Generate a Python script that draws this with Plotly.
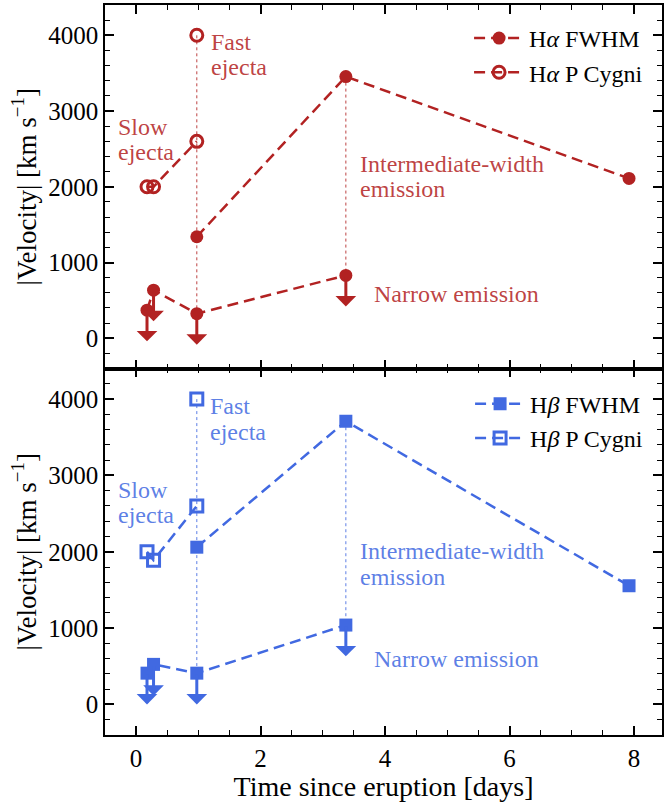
import plotly.graph_objects as go

# ---------------- data ----------------
# H-alpha
ha_fwhm_t = [0.975, 3.37, 7.92]
ha_fwhm_v = [1340, 3455, 2110]
ha_narrow_t = [0.175, 0.28, 0.975, 3.37]
ha_narrow_v = [370, 635, 325, 830]
ha_pcyg_t = [0.175, 0.28, 0.975]
ha_pcyg_v = [2000, 2000, 2600]
ha_fast_t = [0.975]
ha_fast_v = [4000]

# H-beta
hb_fwhm_t = [0.975, 3.37, 7.92]
hb_fwhm_v = [2060, 3710, 1555]
hb_narrow_t = [0.175, 0.28, 0.975, 3.37]
hb_narrow_v = [410, 525, 410, 1040]
hb_pcyg_t = [0.175, 0.28, 0.975]
hb_pcyg_v = [2000, 1890, 2600]
hb_fast_t = [0.975]
hb_fast_v = [4000]

x_ticks = [0, 2, 4, 6, 8]
y_ticks = [0, 1000, 2000, 3000, 4000]

# ---------------- style ----------------
RED = "#b22222"
RED_TXT = "rgba(178,34,34,0.85)"
BLUE = "#4169e1"
BLUE_TXT = "rgba(65,105,225,0.85)"
FONT = "'Liberation Serif', 'DejaVu Serif', serif"
LIMIT_LEN = 410  # arrow length in data units (upper-limit marker)
DASH = "11px,6px"
LINE_GAP = 330   # data units between two lines of a label

fig = go.Figure()


def add_panel(fig, xa, yax, col, txtcol, sym, fw_t, fw_v, nr_t, nr_v, pc_t, pc_v, fa_t, fa_v,
              lbl_fwhm, lbl_pc, legend):
    # dotted connectors
    fig.add_trace(go.Scatter(x=[fa_t[0], fa_t[0]], y=[fa_v[0], nr_v[2]], mode="lines",
                             line=dict(color=txtcol, width=1, dash="dot"),
                             xaxis=xa, yaxis=yax, showlegend=False, hoverinfo="skip"))
    fig.add_trace(go.Scatter(x=[fw_t[1], fw_t[1]], y=[fw_v[1], nr_v[3]], mode="lines",
                             line=dict(color=txtcol, width=1, dash="dot"),
                             xaxis=xa, yaxis=yax, showlegend=False, hoverinfo="skip"))
    # FWHM intermediate
    fig.add_trace(go.Scatter(x=fw_t, y=fw_v, mode="lines+markers", name=lbl_fwhm,
                             line=dict(color=col, width=2.5, dash=DASH),
                             marker=dict(symbol=sym, size=13, color=col),
                             xaxis=xa, yaxis=yax, legend=legend))
    # narrow (upper limits)
    fig.add_trace(go.Scatter(x=nr_t, y=nr_v, mode="lines+markers",
                             line=dict(color=col, width=2.5, dash=DASH),
                             marker=dict(symbol=sym, size=13, color=col),
                             xaxis=xa, yaxis=yax, showlegend=False))
    # P Cygni
    fig.add_trace(go.Scatter(x=pc_t, y=pc_v, mode="lines+markers", name=lbl_pc,
                             line=dict(color=col, width=2.5, dash=DASH),
                             marker=dict(symbol=sym + "-open", size=12, color=col,
                                         line=dict(width=3, color=col)),
                             xaxis=xa, yaxis=yax, legend=legend))
    fig.add_trace(go.Scatter(x=fa_t, y=fa_v, mode="markers",
                             marker=dict(symbol=sym + "-open", size=12, color=col,
                                         line=dict(width=3, color=col)),
                             xaxis=xa, yaxis=yax, showlegend=False))
    # arrows (upper limits)
    for t, v in zip(nr_t, nr_v):
        fig.add_annotation(x=t, y=v - LIMIT_LEN, ax=t, ay=v, xref=xa, yref=yax,
                           axref=xa, ayref=yax, showarrow=True, text="",
                           arrowhead=1, arrowsize=1.15, arrowwidth=3, arrowcolor=col,
                           standoff=0, startstandoff=0)


add_panel(fig, "x2", "y", RED, RED_TXT, "circle", ha_fwhm_t, ha_fwhm_v, ha_narrow_t, ha_narrow_v,
          ha_pcyg_t, ha_pcyg_v, ha_fast_t, ha_fast_v,
          "H<i>α</i> FWHM", "H<i>α</i> P Cygni", "legend")
add_panel(fig, "x", "y2", BLUE, BLUE_TXT, "square", hb_fwhm_t, hb_fwhm_v, hb_narrow_t, hb_narrow_v,
          hb_pcyg_t, hb_pcyg_v, hb_fast_t, hb_fast_v,
          "H<i>β</i> FWHM", "H<i>β</i> P Cygni", "legend2")


def label(lines, x, y, xref, yref, color):
    n = len(lines)
    for i, s in enumerate(lines):
        fig.add_annotation(x=x, y=y + (n - 1) / 2 * LINE_GAP - i * LINE_GAP, xref=xref, yref=yref,
                           text=s, showarrow=False, xanchor="left", yanchor="middle",
                           align="left", font=dict(family=FONT, size=24, color=color))


label(["Fast", "ejecta"], 1.17, 3750, "x2", "y", RED_TXT)
label(["Slow", "ejecta"], -0.33, 2630, "x2", "y", RED_TXT)
label(["Intermediate-width", "emission"], 3.57, 2130, "x2", "y", RED_TXT)
label(["Narrow emission"], 3.79, 590, "x2", "y", RED_TXT)
label(["Fast", "ejecta"], 1.15, 3740, "x", "y2", BLUE_TXT)
label(["Slow", "ejecta"], -0.33, 2645, "x", "y2", BLUE_TXT)
label(["Intermediate-width", "emission"], 3.57, 1840, "x", "y2", BLUE_TXT)
label(["Narrow emission"], 3.79, 590, "x", "y2", BLUE_TXT)

axis_common = dict(showline=True, linecolor="black", linewidth=1.5, mirror="ticks",
                   ticks="inside", ticklen=9, tickwidth=1.5, tickcolor="black",
                   showgrid=False, zeroline=False,
                   tickfont=dict(family=FONT, size=25, color="black"))
minor_y = dict(ticks="inside", dtick=200, ticklen=5, tickwidth=1.2, tickcolor="black", showgrid=False)
minor_x = dict(ticks="inside", dtick=0.5, ticklen=5, tickwidth=1.2, tickcolor="black", showgrid=False)

ytitle = dict(text="|Velocity| [km s<sup>−1</sup>]", font=dict(family=FONT, size=27, color="black"),
              standoff=4)
split = 0.502
leg_font = dict(family=FONT, size=24, color="black")

fig.update_layout(
    width=665, height=802,
    margin=dict(l=105, r=1, t=5, b=67),
    plot_bgcolor="white", paper_bgcolor="white",
    font=dict(family=FONT, color="black"),
    xaxis=dict(domain=[0, 1], anchor="y2", range=[-0.5, 8.45], tickvals=x_ticks,
               minor=minor_x,
               title=dict(text="Time since eruption [days]", font=dict(family=FONT, size=28), standoff=4),
               **axis_common),
    xaxis2=dict(domain=[0, 1], anchor="y", matches="x", range=[-0.5, 8.45], tickvals=x_ticks,
                showticklabels=False, minor=minor_x, **axis_common),
    yaxis=dict(domain=[split, 1], anchor="x2", range=[-400, 4400], tickvals=y_ticks,
               minor=minor_y, title=ytitle, **axis_common),
    yaxis2=dict(domain=[0, split], anchor="x", range=[-400, 4400], tickvals=y_ticks,
                minor=minor_y, title=ytitle, **axis_common),
    legend=dict(x=0.975, y=0.985, xanchor="right", yanchor="top", bgcolor="rgba(0,0,0,0)",
                font=leg_font, tracegroupgap=0, itemwidth=50),
    legend2=dict(x=0.975, y=0.484, xanchor="right", yanchor="top", bgcolor="rgba(0,0,0,0)",
                 font=leg_font, tracegroupgap=0, itemwidth=50),
)

fig.write_html("out.html", config={"displayModeBar": False},
               post_script="document.body.style.margin='0';")
